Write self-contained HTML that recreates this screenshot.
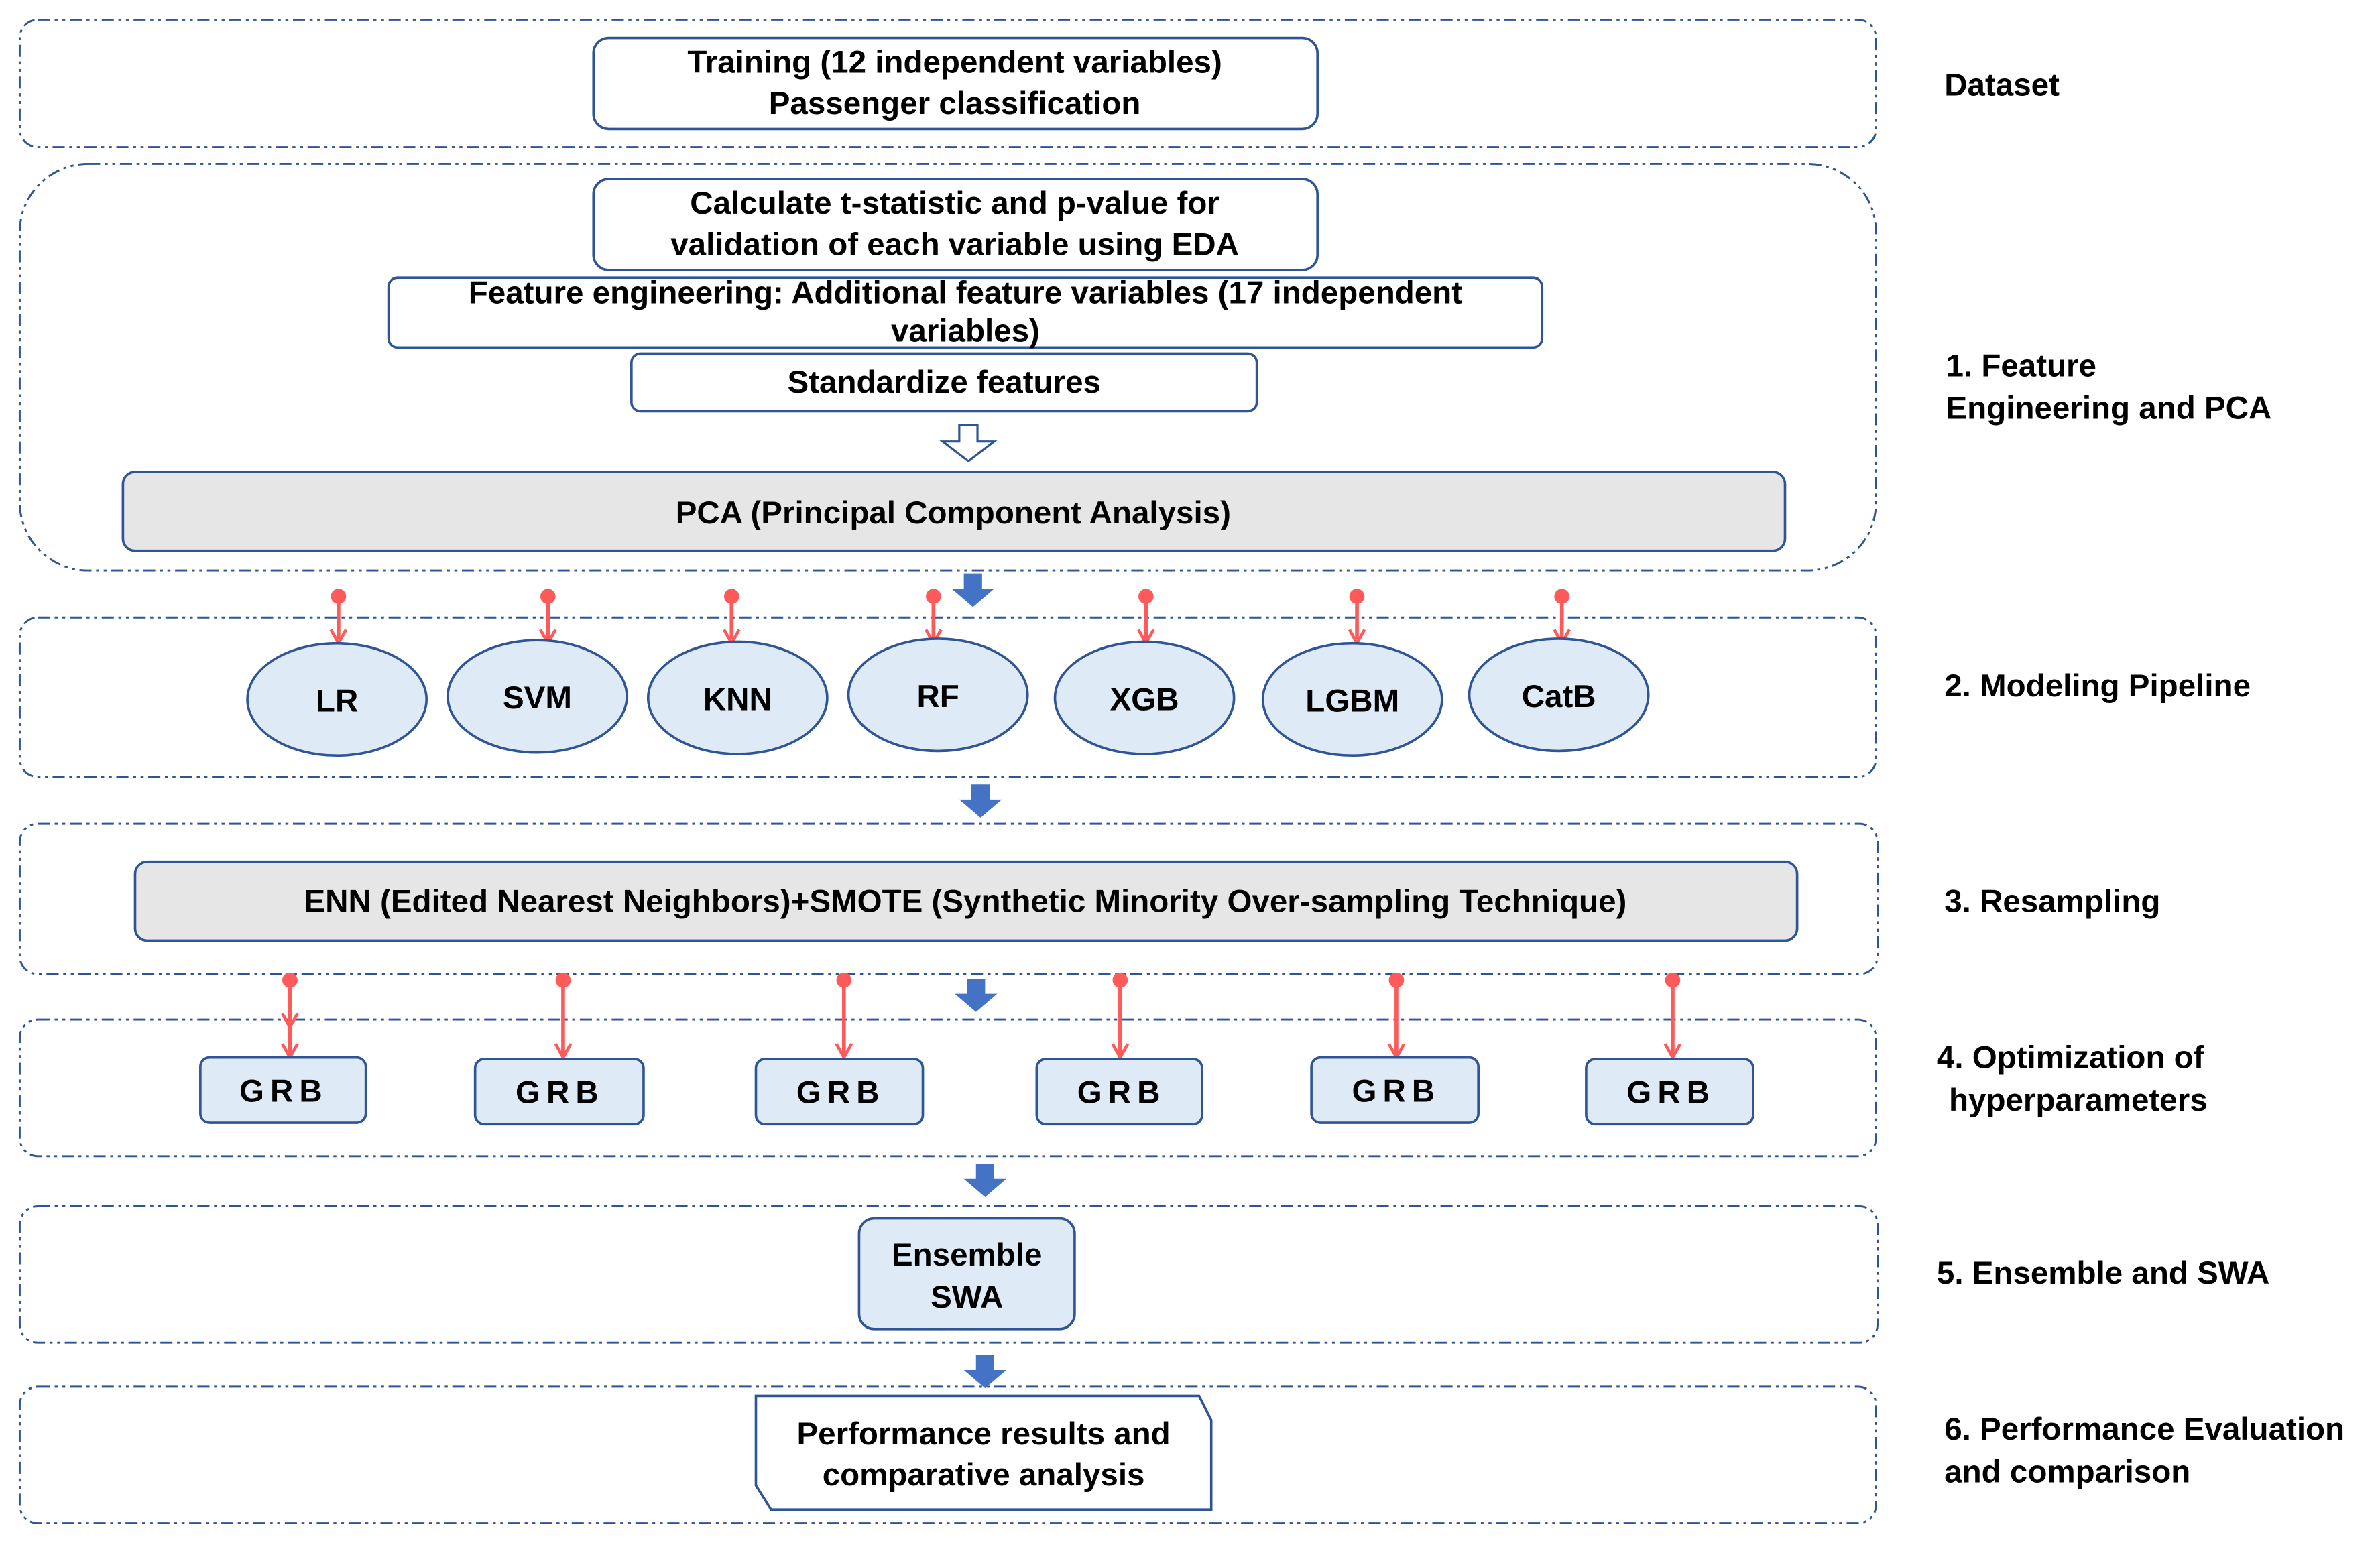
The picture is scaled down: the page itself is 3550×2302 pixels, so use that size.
<!DOCTYPE html>
<html><head><meta charset="utf-8"><style>
html,body{margin:0;padding:0;background:#fff;}
svg{display:block;}
text{font-family:"Liberation Sans Narrow","Liberation Sans",sans-serif;font-weight:bold;fill:#000;}
.g{fill:none;stroke:#2F5597;stroke-width:1.3;stroke-dasharray:8 3 2 3 2 3;}
.b{fill:#fff;stroke:#2F5597;stroke-width:1.6;}
.l{fill:#DEEBF7;stroke:#2F5597;stroke-width:1.6;}
.t{font-size:21px;text-anchor:middle;}
.lab{font-family:"Liberation Sans",sans-serif;font-size:21px;}
</style></head><body>
<svg width="3550" height="2302" viewBox="0 0 1568 1017" preserveAspectRatio="none" xmlns="http://www.w3.org/2000/svg">
<defs>
<g id="ba"><path d="M-6,0 H6 V10 H14 L0,22 L-14,10 H-6 Z" fill="#4472C4"/></g>
<g id="pin"><circle cx="0" cy="0" r="5" fill="#FF5A5A"/><line x1="0" y1="0" x2="0" y2="28" stroke="#FF5A5A" stroke-width="2.5"/><path d="M-5,22 L0,31 L5,22" fill="none" stroke="#FF5A5A" stroke-width="2"/></g>
</defs>
<!-- groups -->
<rect class="g" x="13" y="13" width="1223" height="84" rx="12"/>
<rect class="g" x="13" y="108" width="1223" height="268" rx="45"/>
<rect class="g" x="13" y="407" width="1223" height="105" rx="12"/>
<rect class="g" x="13" y="543" width="1224" height="99" rx="12"/>
<rect class="g" x="13" y="672" width="1223" height="90" rx="12"/>
<rect class="g" x="13" y="795" width="1224" height="90" rx="12"/>
<rect class="g" x="13" y="914" width="1223" height="90" rx="12"/>

<rect class="b" x="391" y="25" width="477" height="60" rx="10"/>
<text class="t" x="629" y="48">Training (12 independent variables)</text>
<text class="t" x="629" y="75">Passenger classification</text>

<rect class="b" x="391" y="118" width="477" height="60" rx="10"/>
<text class="t" x="629" y="141">Calculate t-statistic and p-value for</text>
<text class="t" x="629" y="168">validation of each variable using EDA</text>

<rect class="b" x="256" y="183" width="760" height="46" rx="6"/>
<text class="t" x="636" y="200">Feature engineering: Additional feature variables (17 independent</text>
<text class="t" x="636" y="225">variables)</text>

<rect class="b" x="416" y="233" width="412" height="38" rx="6"/>
<text class="t" x="622" y="259">Standardize features</text>

<path d="M632,280 H644 V291 H655 L638,304 L621,291 H632 Z" fill="#fff" stroke="#2F5597" stroke-width="1.4"/>

<rect x="81" y="311" width="1095" height="52" rx="8" fill="#E6E6E6" stroke="#2F5597" stroke-width="1.6"/>
<text class="t" x="628" y="345">PCA (Principal Component Analysis)</text>

<use href="#ba" x="641" y="378"/>

<use href="#pin" x="223" y="393"/><use href="#pin" x="361" y="393"/><use href="#pin" x="482" y="393"/><use href="#pin" x="615" y="393"/><use href="#pin" x="755" y="393"/><use href="#pin" x="894" y="393"/><use href="#pin" x="1029" y="393"/>

<ellipse class="l" cx="222" cy="461" rx="59" ry="37"/><text class="t" x="222" y="469">LR</text>
<ellipse class="l" cx="354" cy="459" rx="59" ry="37"/><text class="t" x="354" y="467">SVM</text>
<ellipse class="l" cx="486" cy="460" rx="59" ry="37"/><text class="t" x="486" y="468">KNN</text>
<ellipse class="l" cx="618" cy="458" rx="59" ry="37"/><text class="t" x="618" y="466">RF</text>
<ellipse class="l" cx="754" cy="460" rx="59" ry="37"/><text class="t" x="754" y="468">XGB</text>
<ellipse class="l" cx="891" cy="461" rx="59" ry="37"/><text class="t" x="891" y="469">LGBM</text>
<ellipse class="l" cx="1027" cy="458" rx="59" ry="37"/><text class="t" x="1027" y="466">CatB</text>

<use href="#ba" x="646" y="517"/>

<rect x="89" y="568" width="1095" height="52" rx="8" fill="#E6E6E6" stroke="#2F5597" stroke-width="1.6"/>
<text class="t" x="636" y="601">ENN (Edited Nearest Neighbors)+SMOTE (Synthetic Minority Over-sampling Technique)</text>

<g transform="translate(0,0)">
<use href="#pin" x="191" y="646" transform="translate(0,0)"/>
</g>
<g>
<line x1="191" y1="646" x2="191" y2="695" stroke="#FF5A5A" stroke-width="2.5"/><line x1="371" y1="646" x2="371" y2="695" stroke="#FF5A5A" stroke-width="2.5"/><line x1="556" y1="646" x2="556" y2="695" stroke="#FF5A5A" stroke-width="2.5"/><line x1="738" y1="646" x2="738" y2="695" stroke="#FF5A5A" stroke-width="2.5"/><line x1="920" y1="646" x2="920" y2="695" stroke="#FF5A5A" stroke-width="2.5"/><line x1="1102" y1="646" x2="1102" y2="695" stroke="#FF5A5A" stroke-width="2.5"/>
<g fill="#FF5A5A"><circle cx="191" cy="646" r="5"/><circle cx="371" cy="646" r="5"/><circle cx="556" cy="646" r="5"/><circle cx="738" cy="646" r="5"/><circle cx="920" cy="646" r="5"/><circle cx="1102" cy="646" r="5"/></g>
<g fill="none" stroke="#FF5A5A" stroke-width="2"><path d="M186,688 L191,697 L196,688"/><path d="M366,688 L371,697 L376,688"/><path d="M551,688 L556,697 L561,688"/><path d="M733,688 L738,697 L743,688"/><path d="M915,688 L920,697 L925,688"/><path d="M1097,688 L1102,697 L1107,688"/></g>
</g>

<use href="#ba" x="643" y="645"/>

<rect class="l" x="132" y="697" width="109" height="43" rx="6"/><text class="t" x="187" y="726" letter-spacing="4">GRB</text>
<rect class="l" x="313" y="698" width="111" height="43" rx="6"/><text class="t" x="369" y="727" letter-spacing="4">GRB</text>
<rect class="l" x="498" y="698" width="110" height="43" rx="6"/><text class="t" x="554" y="727" letter-spacing="4">GRB</text>
<rect class="l" x="683" y="698" width="109" height="43" rx="6"/><text class="t" x="739" y="727" letter-spacing="4">GRB</text>
<rect class="l" x="864" y="697" width="110" height="43" rx="6"/><text class="t" x="920" y="726" letter-spacing="4">GRB</text>
<rect class="l" x="1045" y="698" width="110" height="43" rx="6"/><text class="t" x="1101" y="727" letter-spacing="4">GRB</text>

<use href="#ba" x="649" y="767"/>

<rect class="l" x="566" y="803" width="142" height="73" rx="10"/>
<text class="t" x="637" y="834">Ensemble</text>
<text class="t" x="637" y="862">SWA</text>

<use href="#ba" x="649" y="893"/>

<path d="M498,920 H790 L798,936 V995 H508 L498,979 Z" class="b"/>
<text class="t" x="648" y="952">Performance results and</text>
<text class="t" x="648" y="979">comparative analysis</text>

<text class="lab" x="1281" y="63">Dataset</text>
<text class="lab" x="1282" y="248">1. Feature</text>
<text class="lab" x="1282" y="276">Engineering and PCA</text>
<text class="lab" x="1281" y="459">2. Modeling Pipeline</text>
<text class="lab" x="1281" y="601">3. Resampling</text>
<text class="lab" x="1276" y="704">4. Optimization of</text>
<text class="lab" x="1284" y="732">hyperparameters</text>
<text class="lab" x="1276" y="846">5. Ensemble and SWA</text>
<text class="lab" x="1281" y="949">6. Performance Evaluation</text>
<text class="lab" x="1281" y="977">and comparison</text>
</svg>
</body></html>
